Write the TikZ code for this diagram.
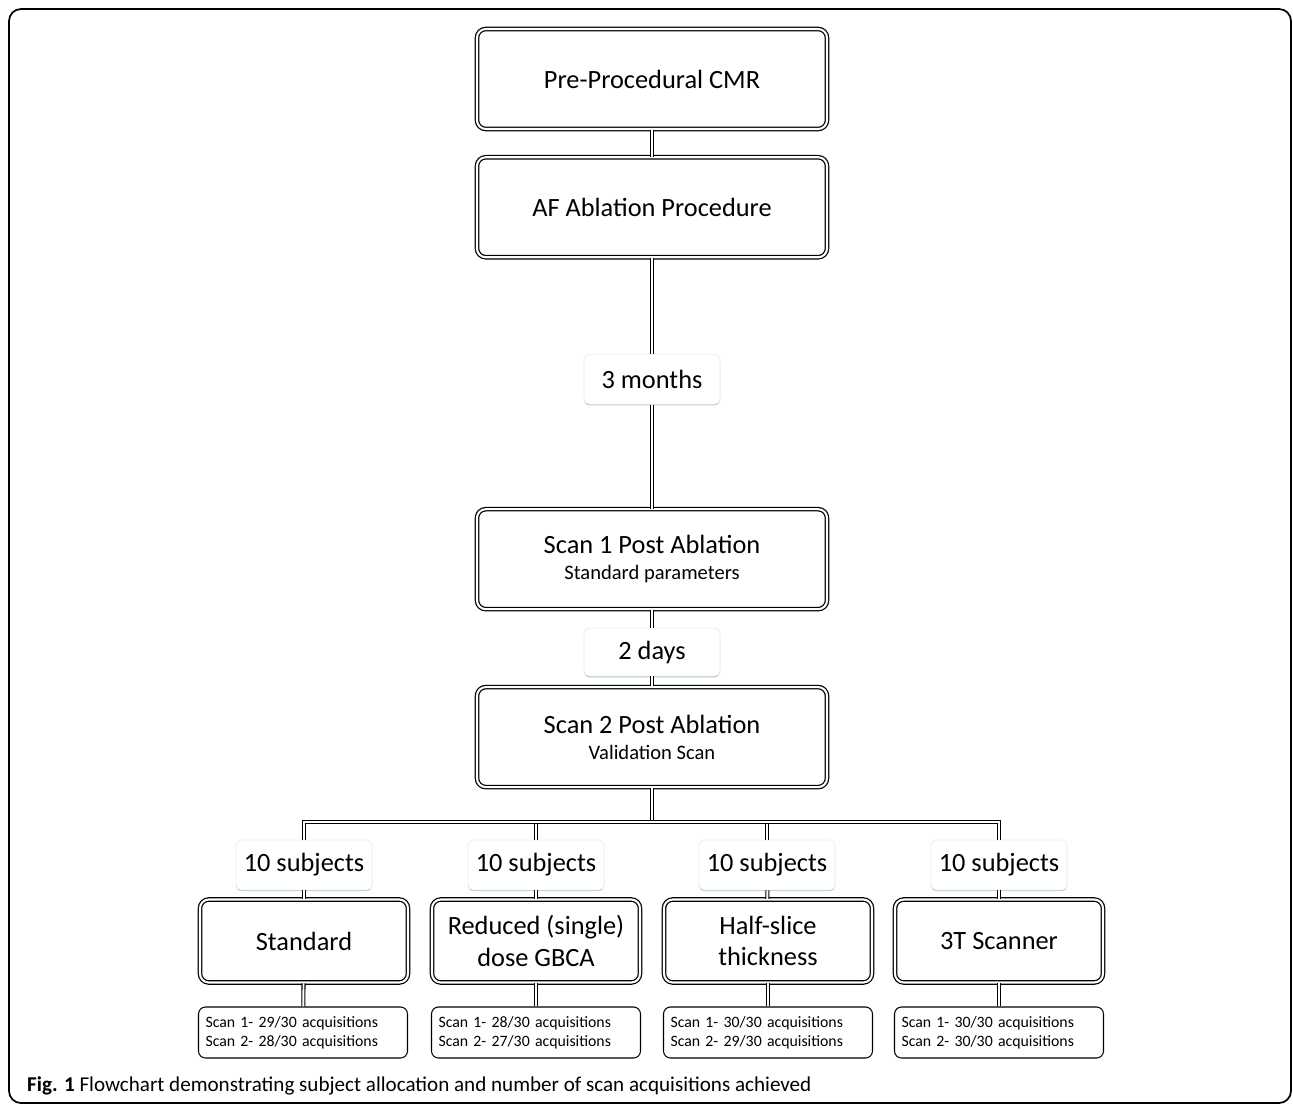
\documentclass[tikz,border=0pt]{standalone}
\usepackage{fontspec}
\setmainfont{Carlito}
\usepackage{tikz}
\usetikzlibrary{positioning, shadows}
\tikzset{
  stage/.style={rectangle, draw, double, double distance=1.2pt, line width=0.7pt, rounded corners=5pt, fill=white, minimum width=7cm, minimum height=2cm, align=center, font=\fontsize{15}{18}\selectfont},
  group/.style={stage, minimum width=4.16cm, minimum height=1.66cm},
  tag/.style={rectangle, draw=gray!15, fill=white, rounded corners=3pt, minimum width=2.72cm, minimum height=1cm, font=\fontsize{15}{18}\selectfont, drop shadow={shadow xshift=0pt, shadow yshift=-0.7pt, fill=teal!70!black, opacity=0.35}},
  result/.style={rectangle, draw, line width=0.6pt, rounded corners=4pt, fill=white, minimum width=4.18cm, minimum height=1.02cm, text width=3.9cm, align=left, font=\fontsize{9}{10.6}\selectfont},
  link/.style={double, double distance=1.1pt, line width=0.6pt},
}

\begin{document}
\begin{tikzpicture}
  \useasboundingbox (0,0) rectangle (25.86,-22.1);
  \draw[line width=1pt, rounded corners=0.24cm] (0.18,-0.18) rectangle (25.82,-22.06);

  % Main timeline
  \node[stage] (pre) at (13.04,-1.58) {Pre-Procedural CMR};
  \node[stage, below=0.54cm of pre] (abl) {AF Ablation Procedure};
  \node[tag, below=1.92cm of abl] (months) {3 months};
  \node[stage, below=2.08cm of months] (scan1) {Scan 1 Post Ablation\\[-3pt]{\fontsize{11.7}{14}\selectfont Standard parameters}};
  \node[tag, minimum height=0.96cm, below=0.36cm of scan1] (days) {2 days};
  \node[stage, below=0.2cm of days] (scan2) {Scan 2 Post Ablation\\[-3pt]{\fontsize{11.7}{14}\selectfont Validation Scan}};
  \coordinate (bus) at (13.04,-16.44);

  % Subject groups
  \node[tag] (sub1) at (6.08,-17.3) {10 subjects};
  \node[tag] (sub2) at (10.72,-17.3) {10 subjects};
  \node[tag] (sub3) at (15.34,-17.3) {10 subjects};
  \node[tag] (sub4) at (19.98,-17.3) {10 subjects};

  \node[group] (std) at (6.08,-18.82) {Standard};
  \node[group] (dose) at (10.72,-18.82) {Reduced (single)\\dose GBCA};
  \node[group] (half) at (15.36,-18.82) {Half-slice\\thickness};
  \node[group] (tesla) at (19.98,-18.82) {3T Scanner};

  \node[result] (res1) at (6.06,-20.65) {Scan 1- 29/30 acquisitions\\Scan 2- 28/30 acquisitions};
  \node[result] (res2) at (10.72,-20.65) {Scan 1- 28/30 acquisitions\\Scan 2- 27/30 acquisitions};
  \node[result] (res3) at (15.36,-20.65) {Scan 1- 30/30 acquisitions\\Scan 2- 29/30 acquisitions};
  \node[result] (res4) at (19.98,-20.65) {Scan 1- 30/30 acquisitions\\Scan 2- 30/30 acquisitions};

  % Connectors
  \draw[link] (pre) -- (abl);
  \draw[link] (abl) -- (months);
  \draw[link] (months) -- (scan1);
  \draw[link] (scan1) -- (days);
  \draw[link] (days) -- (scan2);
  \draw[link] (scan2) -- (bus);
  \draw[link] (sub2.north |- bus) -- (sub2);
  \draw[link] (sub3.north |- bus) -- (sub3);
  \draw[link] (sub1.north) |- (sub4.north |- bus) -- (sub4.north);
  \foreach \i/\g/\r in {1/std/res1, 2/dose/res2, 3/half/res3, 4/tesla/res4}{
    \draw[link] (sub\i) -- (\g);
    \draw[link] (\g) -- (\r);
  }

  % Caption
  \node[anchor=west, font=\fontsize{12}{14}\selectfont] (caption) at (0.42,-21.72) {\textbf{Fig. 1} Flowchart demonstrating subject allocation and number of scan acquisitions achieved};
\end{tikzpicture}
\end{document}
